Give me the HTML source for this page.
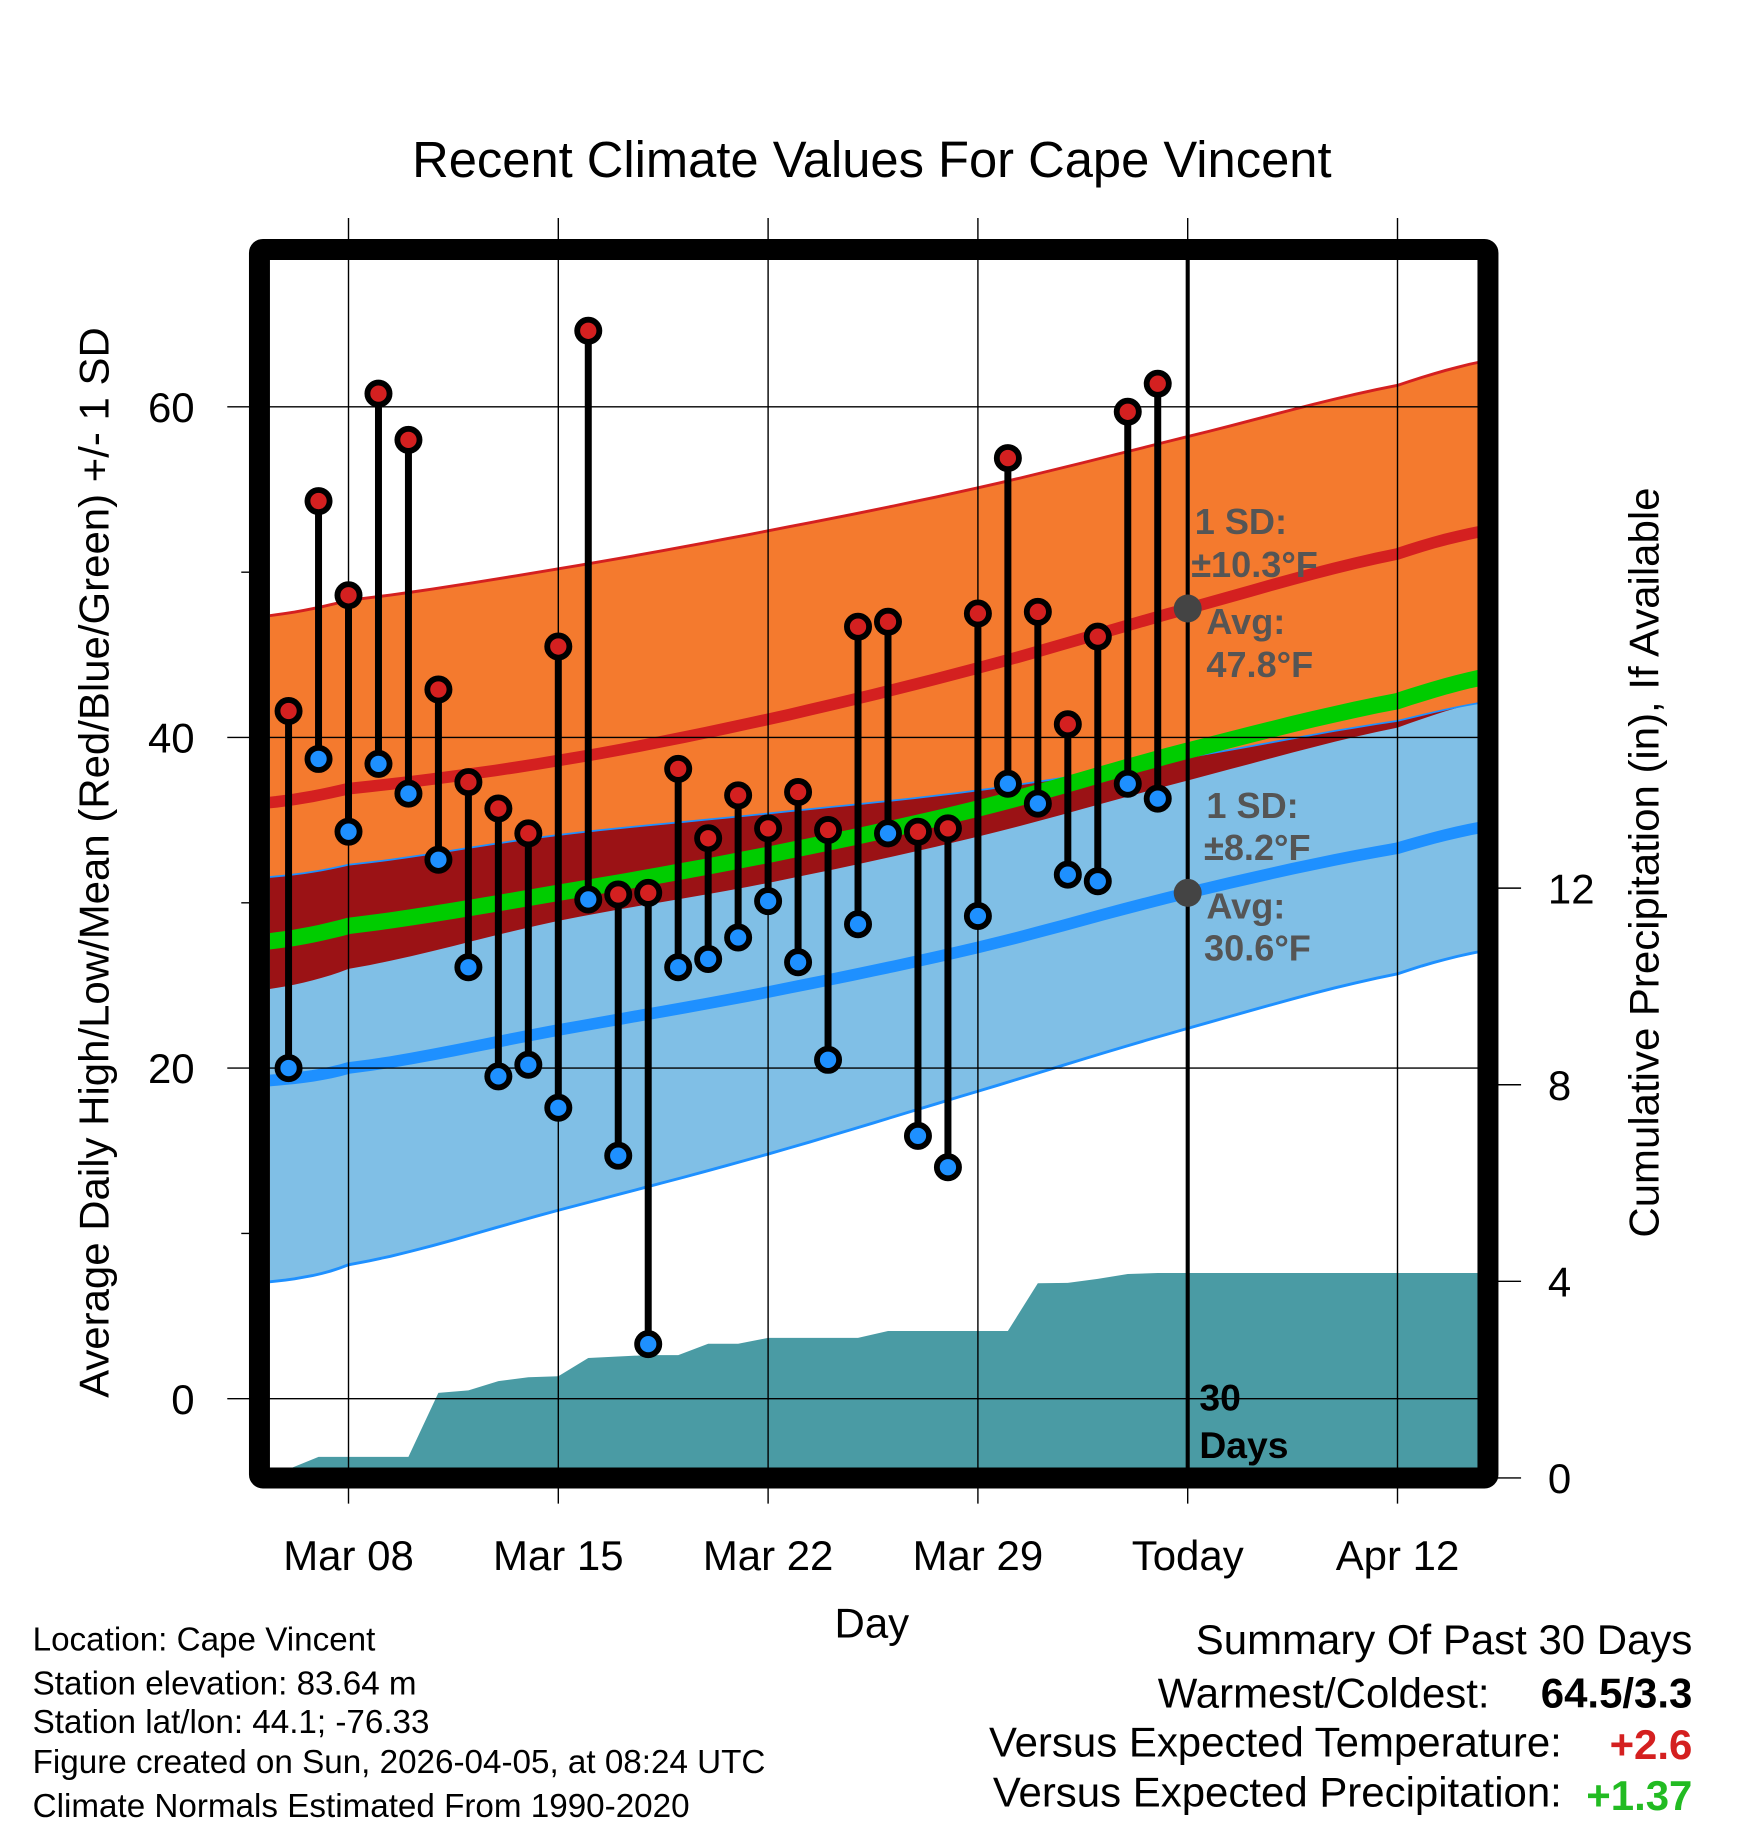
<!DOCTYPE html>
<html><head><meta charset="utf-8"><style>
html,body{margin:0;padding:0;background:#fff}
svg{display:block;font-family:"Liberation Sans",Arial,sans-serif}
</style></head><body>
<svg id="chart" width="1748" height="1828" viewBox="0 0 1499.7 1568.3" xmlns="http://www.w3.org/2000/svg">
<defs><clipPath id="plotclip"><rect x="231.6" y="223" width="1036.4" height="1036.4"/></clipPath></defs>
<g id="layers" clip-path="url(#plotclip)"></g>
<g id="overlay"></g>
</svg>
<script>
// ---- data ----
const days = ["Mar 06","Mar 07","Mar 08","Mar 09","Mar 10","Mar 11","Mar 12","Mar 13","Mar 14","Mar 15","Mar 16","Mar 17","Mar 18","Mar 19","Mar 20","Mar 21","Mar 22","Mar 23","Mar 24","Mar 25","Mar 26","Mar 27","Mar 28","Mar 29","Mar 30","Mar 31","Apr 01","Apr 02","Apr 03","Apr 04"];
const dayOffsets = [-2,-1,0,1,2,3,4,5,6,7,8,9,10,11,12,13,14,15,16,17,18,19,20,21,22,23,24,25,26,27];
const highs = [41.6,54.3,48.6,60.8,58.0,42.9,37.3,35.7,34.2,45.5,64.6,30.5,30.6,38.1,33.9,36.5,34.5,36.7,34.4,46.7,47.0,34.3,34.5,47.5,56.9,47.6,40.8,46.1,59.7,61.4];
const lows = [20.0,38.7,34.3,38.4,36.6,32.6,26.1,19.5,20.2,17.6,30.2,14.7,3.3,26.1,26.6,27.9,30.1,26.4,20.5,28.7,34.2,15.9,14.0,29.2,37.2,36.0,31.7,31.3,37.2,36.3];
const precip = [0.18,0.43,0.43,0.43,0.43,1.73,1.78,1.97,2.05,2.07,2.44,2.47,2.50,2.50,2.73,2.73,2.85,2.85,2.85,2.85,2.99,2.99,2.99,2.99,2.99,3.96,3.97,4.05,4.15,4.17];
const normDays = [-3,0,7,14,21,28,35,39];
const highUp = [47.3,48.3,50.2,52.5,55.1,58.2,61.3,63.1];
const highMean = [36.0,36.9,38.6,41.1,44.2,47.8,51.1,52.8];
const highLow = [24.7,26.0,28.9,31.2,34.0,37.4,40.6,42.6];
const lowUp = [31.5,32.3,34.1,35.4,36.8,38.8,41.0,42.4];
const lowMean = [19.2,20.0,22.3,24.6,27.3,30.6,33.3,34.9];
const lowLow = [7.0,8.1,11.4,14.8,18.6,22.4,25.7,27.4];
const allMean = [27.6,28.6,30.6,32.9,35.7,39.2,42.2,44.0];
const xTickDays = [0,7,14,21,28,35];
const xTickLabels = ["Mar 08","Mar 15","Mar 22","Mar 29","Today","Apr 12"];
const yTicks = [0,20,40,60];
const yMinor = [10,30,50];
const pTicks = [0,4,8,12];

// ---- axes ----
const X0=231.6, X1=1268, Y0=223, Y1=1259.4;
const xs = d => 299 + d*25.714;
const ys = v => 1200 - v*14.183;
const ps = p => 1268 - p*42.17;

const NS="http://www.w3.org/2000/svg";
const layers=document.getElementById('layers');
const over=document.getElementById('overlay');
function mk(tag,attrs,parent){const e=document.createElementNS(NS,tag);for(const k in attrs)e.setAttribute(k,attrs[k]);parent.appendChild(e);return e;}
// smooth curve sampling (Catmull-Rom) through the normal points
function smooth(vArr){
  const out=[];
  const n=normDays.length;
  for(let i=0;i<n-1;i++){
    const p0=vArr[Math.max(i-1,0)],p1=vArr[i],p2=vArr[i+1],p3=vArr[Math.min(i+2,n-1)];
    const d1=normDays[i],d2=normDays[i+1];
    for(let s=0;s<10;s++){
      const t=s/10;
      const v=0.5*((2*p1)+(-p0+p2)*t+(2*p0-5*p1+4*p2-p3)*t*t+(-p0+3*p1-3*p2+p3)*t*t*t);
      out.push([xs(d1+(d2-d1)*t),ys(v)]);
    }
  }
  out.push([xs(normDays[n-1]),ys(vArr[n-1])]);
  return out;
}
function ptsStr(a){return a.map(p=>p[0].toFixed(1)+','+p[1].toFixed(1)).join(' ');}
function band(lo,hi){return ptsStr(smooth(hi).concat(smooth(lo).reverse()));}

let e;
e=mk('polygon',{points:band(highLow,highUp),fill:'#F47A2E'},layers);


e=mk('polygon',{points:band(lowLow,lowUp),fill:'#80BFE6'},layers);


const ovLo=highLow.map((v,i)=>Math.max(v,lowLow[i]));
const ovHi=lowUp.map((v,i)=>Math.min(v,highUp[i]));
e=mk('polygon',{points:band(ovLo,ovHi),fill:'#9B1215'},layers);


e=mk('polyline',{points:ptsStr(smooth(highUp)),fill:'none',stroke:'#D42020','stroke-width':2.5},layers);


e=mk('polyline',{points:ptsStr(smooth(lowUp)),fill:'none',stroke:'#1E90FF','stroke-width':1.5},layers);


e=mk('polyline',{points:ptsStr(smooth(lowLow)),fill:'none',stroke:'#1E90FF','stroke-width':2.5},layers);


e=mk('polyline',{points:ptsStr(smooth(allMean)),fill:'none',stroke:'#00CC00','stroke-width':14},layers);


e=mk('polyline',{points:ptsStr(smooth(highMean)),fill:'none',stroke:'#D42020','stroke-width':10},layers);


e=mk('polyline',{points:ptsStr(smooth(lowMean)),fill:'none',stroke:'#1E90FF','stroke-width':10},layers);



// precip area
let pp=[X0+','+Y1, X0+','+ps(precip[0]).toFixed(1)];
precip.forEach((p,i)=>{pp.push(xs(dayOffsets[i]).toFixed(1)+','+ps(p).toFixed(1));});
pp.push(X1+','+ps(precip[precip.length-1]).toFixed(1));
pp.push(X1+','+Y1);
e=mk('polygon',{points:pp.join(' '),fill:'#4A9BA4'},layers);



// grid
xTickDays.forEach(d=>{e=mk('line',{x1:xs(d),x2:xs(d),y1:187,y2:1290,stroke:'#000','stroke-width':1.2},over);

});
yTicks.forEach(v=>{e=mk('line',{x1:195,x2:X1,y1:ys(v),y2:ys(v),stroke:'#000','stroke-width':1.2},over);

});
yMinor.forEach(v=>{e=mk('line',{x1:207,x2:222,y1:ys(v),y2:ys(v),stroke:'#000','stroke-width':1.2},over);

});
pTicks.forEach(p=>{e=mk('line',{x1:1280,x2:1305,y1:ps(p),y2:ps(p),stroke:'#000','stroke-width':1.2},over);

});

e=mk('line',{x1:xs(28),x2:xs(28),y1:Y0,y2:Y1,stroke:'#000','stroke-width':3.5},over);



highs.forEach((h,i)=>{
  const x=xs(dayOffsets[i]);
  e=mk('line',{x1:x,x2:x,y1:ys(h),y2:ys(lows[i]),stroke:'#000','stroke-width':6},over);
  
  
});
highs.forEach((h,i)=>{
  const x=xs(dayOffsets[i]);
  e=mk('circle',{cx:x,cy:ys(h),r:9.5,fill:'#D42020',stroke:'#000','stroke-width':5},over);
  
  
  e=mk('circle',{cx:x,cy:ys(lows[i]),r:9.5,fill:'#1E90FF',stroke:'#000','stroke-width':5},over);
  
  
});
e=mk('circle',{cx:xs(28),cy:ys(highMean[5]),r:12,fill:'#444'},over);


e=mk('circle',{cx:xs(28),cy:ys(lowMean[5]),r:12,fill:'#444'},over);



e=mk('rect',{x:222.6,y:214,width:1054,height:1054,fill:'none',stroke:'#000','stroke-width':18,rx:3},over);



function txt(s,attrs,name){const t=mk('text',attrs,over);t.textContent=s;return t;}
xTickDays.forEach((d,i)=>txt(xTickLabels[i],{x:xs(d),y:1347,'font-size':36,'text-anchor':'middle'},'x-tick-label'));
yTicks.forEach(v=>txt(String(v),{x:167,y:ys(v)+13,'font-size':36,'text-anchor':'end'},'y-tick-label'));
pTicks.forEach(p=>txt(String(p),{x:1328,y:ps(p)+13,'font-size':36,'text-anchor':'start'},'precip-tick-label'));
</script>
<svg style="position:absolute;left:0;top:0" width="1748" height="1828" viewBox="0 0 1499.7 1568.3" xmlns="http://www.w3.org/2000/svg" font-family="Liberation Sans, Arial, sans-serif">
<text x="748" y="152" font-size="43.5" text-anchor="middle">Recent Climate Values For Cape Vincent</text>
<text x="748" y="1405" font-size="36" text-anchor="middle">Day</text>
<text transform="translate(93,740) rotate(-90)" font-size="36" text-anchor="middle">Average Daily High/Low/Mean (Red/Blue/Green) +/- 1 SD</text>
<text transform="translate(1423,740) rotate(-90)" font-size="36" text-anchor="middle">Cumulative Precipitation (in), If Available</text>
<g font-weight="bold" font-size="31" fill="#555">
<text x="1025" y="458">1 SD:</text>
<text x="1022" y="495">±10.3°F</text>
<text x="1035" y="544">Avg:</text>
<text x="1035" y="581">47.8°F</text>
<text x="1035" y="702">1 SD:</text>
<text x="1033" y="738">±8.2°F</text>
<text x="1035" y="788">Avg:</text>
<text x="1033" y="824">30.6°F</text>
</g>
<text x="1029" y="1210" font-size="32" font-weight="bold">30</text>
<text x="1029" y="1251" font-size="32" font-weight="bold">Days</text>
<g font-size="28.5">
<text x="28" y="1416">Location: Cape Vincent</text>
<text x="28" y="1454">Station elevation: 83.64 m</text>
<text x="28" y="1487">Station lat/lon: 44.1; -76.33</text>
<text x="28" y="1521">Figure created on Sun, 2026-04-05, at 08:24 UTC</text>
<text x="28" y="1559">Climate Normals Estimated From 1990-2020</text>
</g>
<g font-size="36">
<text x="1452" y="1419" text-anchor="end">Summary Of Past 30 Days</text>
<text x="1278" y="1465" text-anchor="end">Warmest/Coldest:</text>
<text x="1452" y="1465" text-anchor="end" font-weight="bold">64.5/3.3</text>
<text x="1340" y="1507" text-anchor="end">Versus Expected Temperature:</text>
<text x="1452" y="1509" text-anchor="end" font-weight="bold" fill="#D42020">+2.6</text>
<text x="1340" y="1550" text-anchor="end">Versus Expected Precipitation:</text>
<text x="1452" y="1553" text-anchor="end" font-weight="bold" fill="#22BB22">+1.37</text>
</g>
</svg>
</body></html>
